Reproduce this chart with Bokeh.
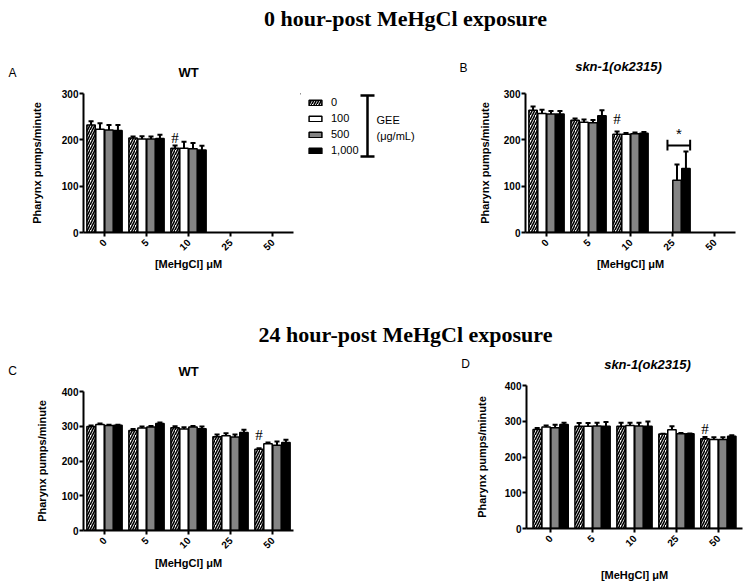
import math
from bokeh.plotting import figure
from bokeh.models import (ColumnDataSource, FactorRange, Range1d, FixedTicker, Label,
                          Legend, LegendItem, Spacer)
from bokeh.layouts import column, row
from bokeh.transform import dodge
from bokeh.core.properties import value
from bokeh.embed import file_html
from bokeh.resources import INLINE

# ---------------- data ----------------
conc = ["0", "5", "10", "25", "50"]
gee_labels = ["0", "100", "500", "1,000"]

# Panel A: 0 h, WT
a_g0 = [232, 204, 182, None, None]
a_g100 = [223, 202, 182, None, None]
a_g500 = [221, 202, 181, None, None]
a_g1000 = [220, 203, 178, None, None]
a_e0 = [8, 3, 6, None, None]
a_e100 = [13, 6, 14, None, None]
a_e500 = [11, 5, 12, None, None]
a_e1000 = [12, 8, 9, None, None]

# Panel B: 0 h, skn-1(ok2315)
b_g0 = [264, 242, 212, None, None]
b_g100 = [257, 238, 212, None, None]
b_g500 = [256, 237, 213, 113, None]
b_g1000 = [256, 252, 214, 138, None]
b_e0 = [8, 4, 6, None, None]
b_e100 = [8, 6, 3, None, None]
b_e500 = [6, 6, 3, 34, None]
b_e1000 = [6, 12, 3, 37, None]

# Panel C: 24 h, WT
c_g0 = [299, 288, 296, 270, 234]
c_g100 = [305, 295, 292, 273, 250]
c_g500 = [302, 298, 298, 269, 245]
c_g1000 = [303, 308, 293, 282, 253]
c_e0 = [3, 4, 4, 6, 3]
c_e100 = [3, 4, 5, 7, 3]
c_e500 = [2, 3, 3, 7, 11]
c_e1000 = [1, 3, 6, 8, 8]

# Panel D: 24 h, skn-1(ok2315)
d_g0 = [277, 286, 286, 264, 251]
d_g100 = [284, 286, 288, 276, 249]
d_g500 = [282, 287, 287, 265, 249]
d_g1000 = [291, 286, 286, 265, 258]
d_e0 = [4, 9, 10, 1, 5]
d_e100 = [4, 9, 8, 10, 6]
d_e500 = [8, 9, 9, 2, 6]
d_e1000 = [5, 12, 13, 1, 3]

# significance marks
a_hash_conc, a_hash_y = ["10"], [205]
b_hash_conc, b_hash_y = ["10"], [244]
c_hash_conc, c_hash_y = ["50"], [276]
d_hash_conc, d_hash_y = ["50"], [279]
b_star_conc, b_star_y = ["25"], [214]
b_bracket_y, b_bracket_lo, b_bracket_hi = [188], [177], [200]

# ---------------- styling ----------------
SANS = "Liberation Sans"
SERIF = "Liberation Serif"
OFFSETS = [-0.32, -0.107, 0.107, 0.32]
BAR_W = 0.2
STYLES = [
    dict(fill_color="white", hatch_pattern="/", hatch_color="black", hatch_scale=5, hatch_weight=1.6),
    dict(fill_color="white"),
    dict(fill_color="#848484"),
    dict(fill_color="black"),
]


def make_panel(means, errs, ymax, width, height, bl, br, bt, bb, pad, ylab_standoff,
               xlab_standoff, hash_conc, hash_y):
    p = figure(width=width, height=height, output_backend="svg", toolbar_location=None,
               x_range=FactorRange(factors=conc, range_padding=pad),
               y_range=Range1d(0, ymax),
               min_border_left=bl, min_border_right=br, min_border_top=bt, min_border_bottom=bb)
    p.outline_line_color = None
    p.xgrid.visible = False
    p.ygrid.visible = False
    for off, m, e, st in zip(OFFSETS, means, errs, STYLES):
        cs = [c for c, v in zip(conc, m) if v is not None]
        ms = [v for v in m if v is not None]
        es = [v for v in e if v is not None]
        src = ColumnDataSource(dict(conc=cs, mean=ms, upper=[a + b for a, b in zip(ms, es)]))
        p.segment(x0=dodge("conc", off, range=p.x_range), x1=dodge("conc", off, range=p.x_range),
                  y0="mean", y1="upper", line_color="black", line_width=2, source=src)
        p.segment(x0=dodge("conc", off - 0.06, range=p.x_range),
                  x1=dodge("conc", off + 0.06, range=p.x_range),
                  y0="upper", y1="upper", line_color="black", line_width=2, source=src)
        p.vbar(x=dodge("conc", off, range=p.x_range), top="mean", width=BAR_W,
               line_color="black", line_width=1.5, source=src, **st)
    hsrc = ColumnDataSource(dict(conc=hash_conc, y=hash_y, t=["#"] * len(hash_conc)))
    p.text(x=dodge("conc", OFFSETS[0], range=p.x_range), y="y", text="t", source=hsrc,
           text_font=value(SERIF), text_font_size="15px", text_align="center",
           text_baseline="middle", text_color="black")

    for ax in (p.xaxis[0], p.yaxis[0]):
        ax.axis_line_width = 2
        ax.major_tick_line_width = 2
        ax.major_tick_out = 4
        ax.major_tick_in = 0
        ax.minor_tick_out = 0
        ax.minor_tick_in = 0
        ax.major_label_text_font = SANS
        ax.major_label_text_font_style = "bold"
        ax.major_label_text_font_size = "10px"
        ax.major_label_text_color = "black"
        ax.axis_label_text_font = SANS
        ax.axis_label_text_font_style = "bold"
        ax.axis_label_text_font_size = "11px"
        ax.axis_label_text_color = "black"
    p.yaxis.ticker = FixedTicker(ticks=list(range(0, ymax + 1, 100)))
    p.yaxis.axis_label = "Pharynx pumps/minute"
    p.yaxis.major_label_standoff = 1
    p.yaxis.axis_label_standoff = ylab_standoff
    p.xaxis.axis_label = "[MeHgCl] μM"
    p.xaxis.major_label_orientation = math.pi / 4
    p.xaxis.major_label_standoff = 4
    p.xaxis.axis_label_standoff = xlab_standoff
    return p


# row 1 panels (y 85..300), row 2 panels (y 380..584)
pA = make_panel([a_g0, a_g100, a_g500, a_g1000], [a_e0, a_e100, a_e500, a_e1000], 300,
                300, 215, 83, 7, 8, 68, 0, 16, 1, a_hash_conc, a_hash_y)
pB = make_panel([b_g0, b_g100, b_g500, b_g1000], [b_e0, b_e100, b_e500, b_e1000], 300,
                332, 215, 105, 17, 8, 68, 0, 10, 1, b_hash_conc, b_hash_y)
pC = make_panel([c_g0, c_g100, c_g500, c_g1000], [c_e0, c_e100, c_e500, c_e1000], 400,
                300, 204, 83, 7, 11, 54, 0, 11, 2, c_hash_conc, c_hash_y)
pD = make_panel([d_g0, d_g100, d_g500, d_g1000], [d_e0, d_e100, d_e500, d_e1000], 400,
                332, 204, 106, 10, 5, 54, 0.03, 14, 16, d_hash_conc, d_hash_y)

# significance bracket + star in panel B
bsrc = ColumnDataSource(dict(conc=b_star_conc, y=b_bracket_y, lo=b_bracket_lo, hi=b_bracket_hi,
                             sy=b_star_y, t=["*"]))
L, R = -0.12, 0.42
pB.segment(x0=dodge("conc", L, range=pB.x_range), x1=dodge("conc", R, range=pB.x_range),
           y0="y", y1="y", line_color="black", line_width=2, source=bsrc)
pB.segment(x0=dodge("conc", L, range=pB.x_range), x1=dodge("conc", L, range=pB.x_range),
           y0="lo", y1="hi", line_color="black", line_width=2, source=bsrc)
pB.segment(x0=dodge("conc", R, range=pB.x_range), x1=dodge("conc", R, range=pB.x_range),
           y0="lo", y1="hi", line_color="black", line_width=2, source=bsrc)
pB.text(x=dodge("conc", (L + R) / 2, range=pB.x_range), y="sy", text="t", source=bsrc,
        text_font=value(SANS), text_font_size="15px", text_align="center",
        text_baseline="middle", text_color="black")

# ---------------- legend panel (frame aligned with panel A: y 93..232) ----------------
pL = figure(width=120, height=215, output_backend="svg", toolbar_location=None,
            x_range=Range1d(0, 120), y_range=Range1d(139, 0),
            min_border_left=0, min_border_right=0, min_border_top=8, min_border_bottom=68)
pL.axis.visible = False
pL.grid.visible = False
pL.outline_line_color = None
items = []
for lab, st in zip(gee_labels, STYLES):
    # one off-screen bar per series so that the legend can draw its swatch
    r = pL.vbar(x=[-1000], top=[0], width=1, line_color="black", line_width=1.5, **st)
    items.append(LegendItem(label=lab, renderers=[r]))
leg = Legend(items=items, location=(7, 74), orientation="vertical", glyph_width=16,
             glyph_height=7, label_height=16, spacing=0, padding=0, margin=0,
             border_line_color=None, background_fill_alpha=0, label_text_font=SANS,
             label_text_font_size="11px", label_text_color="black", label_standoff=8)
pL.add_layout(leg, "center")
pL.segment(x0=[67, 60, 60], y0=[2, 2, 63], x1=[67, 74, 74], y1=[63, 2, 63],
           line_color="black", line_width=2.5)
pL.add_layout(Label(x=76, y=26, text="GEE", text_font=SANS, text_font_size="11px",
                    text_color="black", text_baseline="middle"))
pL.add_layout(Label(x=76, y=42, text="(μg/mL)", text_font=SANS, text_font_size="11px",
                    text_color="black", text_baseline="middle"))


# ---------------- header strips (headline + panel letters + panel titles) ----------------
def header(h, y0, headline, hy, marks):
    t = figure(width=752, height=h, output_backend="svg", toolbar_location=None,
               x_range=Range1d(0, 752), y_range=Range1d(y0 + h, y0),
               min_border_left=0, min_border_right=0, min_border_top=0, min_border_bottom=0)
    t.axis.visible = False
    t.grid.visible = False
    t.outline_line_color = None
    t.add_layout(Label(x=405, y=hy, text=headline, text_font=SERIF, text_font_size="22px",
                       text_font_style="bold", text_color="black",
                       text_align="center", text_baseline="middle"))
    for x, y, txt, style, size in marks:
        t.add_layout(Label(x=x, y=y, text=txt, text_font=SANS, text_font_size=size,
                           text_font_style=style, text_color="black",
                           text_align="center", text_baseline="middle"))
    return t


h1 = header(85, 0, "0 hour-post MeHgCl exposure", 18,
            [(12, 72, "A", "normal", "12px"), (188, 72, "WT", "bold", "13px"),
             (463, 67, "B", "normal", "12px"), (618, 66, "skn-1(ok2315)", "bold italic", "13px")])
h2 = header(80, 300, "24 hour-post MeHgCl exposure", 334,
            [(12, 370, "C", "normal", "12px"), (188, 371, "WT", "bold", "13px"),
             (465, 363, "D", "normal", "12px"), (647, 364, "skn-1(ok2315)", "bold italic", "13px")])

layout = column(h1, row(pA, pL, pB), h2,
                row(column(pC), Spacer(width=120, height=204), column(pD)))

with open("out.html", "w") as f:
    f.write(file_html(layout, INLINE))
